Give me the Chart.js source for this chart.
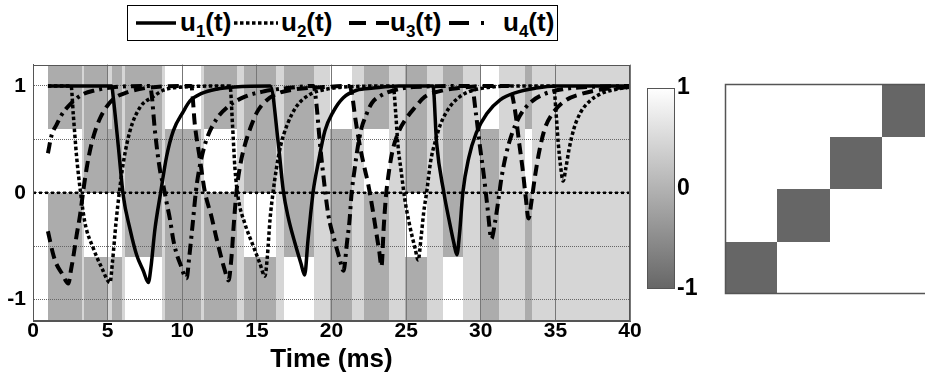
<!DOCTYPE html>
<html>
<head>
<meta charset="utf-8">
<script src="https://cdn.jsdelivr.net/npm/chart.js@4.4.1/dist/chart.umd.min.js"></script>
<style>
  html, body { margin: 0; padding: 0; background: #fff; }
  body {
    width: 925px; height: 381px; position: relative; overflow: hidden;
    font-family: 'Liberation Sans', Arial, sans-serif;
  }
  #mainWrap { position: absolute; left: 0; top: 45px; width: 660px; height: 336px; }
  #cbarWrap { position: absolute; left: 640px; top: 70px; width: 80px; height: 240px; }
  #matWrap  { position: absolute; left: 715px; top: 74px; width: 210px; height: 230px; }
  #legend {
    position: absolute; left: 127px; top: 5px; width: 429px; height: 34px;
    border: 1.5px solid #000; background: #fff;
  }
  .li { position: absolute; top: 0; height: 34px; }
  .li svg { position: absolute; top: 14px; }
  .lt { position: absolute; top: -1px; font-weight: bold; font-size: 26px; line-height: 34px; color: #000; white-space: nowrap; }
  .lt sub { font-size: 17px; vertical-align: -6px; line-height: 0; }
</style>
</head>
<body>
<div id="legend"></div>
<div id="mainWrap"><canvas id="mainChart"></canvas></div>
<div id="cbarWrap"><canvas id="cbarChart"></canvas></div>
<div id="matWrap"><canvas id="matChart"></canvas></div>

<script>
// ── Axis limits / ticks ───────────────────────────────────
const T_LIMITS = [0, 40];
const V_LIMITS = [-1.2, 1.2];
const T_STEP = 5;
const V_STEP = 0.5;

// ── Series, [t (ms), value] ───────────────────────────────
const U1 = [
  [1.0, 1], [5.27, 1], [5.38, 0.89], [5.72, 0.43], [6.05, -0.03], [6.5, -0.34], [6.94, -0.58], [7.39, -0.73],
  [7.73, -0.84], [7.9, -0.7], [8.17, -0.34], [8.55, 0.0], [8.95, 0.34], [9.4, 0.58], [10.07, 0.76],
  [10.52, 0.86], [11.3, 0.93], [12.3, 0.97], [13.5, 0.99], [15.9, 1],
  [16.43, 0.47], [16.77, 0.02], [17.1, -0.23], [17.55, -0.47], [17.95, -0.66], [18.2, -0.77],
  [18.42, -0.45], [18.6, -0.2], [18.78, 0.02], [19.11, 0.28], [19.56, 0.58], [20.12, 0.76], [20.79, 0.89],
  [21.68, 0.96], [22.8, 0.98], [24.5, 1], [26.8, 1],
  [27.04, 0.47], [27.53, 0.0], [27.93, -0.29], [28.2, -0.47], [28.4, -0.58],
  [28.58, -0.38], [28.8, 0.0], [29.2, 0.33], [29.7, 0.56], [30.4, 0.74], [31.3, 0.87], [32.4, 0.94],
  [33.7, 0.98], [35.0, 1], [40, 1]
];
const U2 = [
  [1.0, 1], [2.55, 1], [2.7, 0.73], [2.92, 0.34], [3.19, 0.0], [3.48, -0.28], [4.04, -0.52], [4.6, -0.7],
  [5.16, -0.84], [5.33, -0.64], [5.56, -0.28], [5.78, 0.0], [6.05, 0.28], [6.5, 0.58], [7.17, 0.8],
  [8.06, 0.9], [8.73, 0.96], [10.07, 0.99], [13.2, 1],
  [13.37, 0.63], [13.53, 0.23], [13.75, -0.05], [14.2, -0.29], [14.76, -0.5], [15.2, -0.66], [15.54, -0.78],
  [15.7, -0.6], [15.88, -0.25], [16.08, 0.0], [16.3, 0.22], [16.59, 0.44], [17.04, 0.64], [17.66, 0.81],
  [18.55, 0.92], [19.67, 0.97], [20.8, 0.99], [24.13, 1],
  [24.3, 0.75], [24.45, 0.45], [24.67, 0.2], [24.9, -0.05], [25.23, -0.3], [25.6, -0.52], [25.81, -0.63],
  [26.0, -0.42], [26.18, -0.18], [26.37, 0.0], [26.65, 0.3], [26.95, 0.48], [27.3, 0.64], [27.9, 0.8],
  [28.6, 0.9], [29.27, 0.95], [30.16, 0.98], [32.0, 1], [34.89, 1],
  [35.03, 0.78], [35.19, 0.47], [35.34, 0.26], [35.52, 0.11], [35.7, 0.23], [35.92, 0.41], [36.24, 0.6],
  [36.68, 0.75], [37.31, 0.86], [38.09, 0.93], [39.1, 0.97], [40, 0.99]
];
const U3 = [
  [1.0, -0.36], [1.36, -0.58], [1.58, -0.67], [1.92, -0.75], [2.37, -0.85], [2.55, -0.72], [2.7, -0.6],
  [2.92, -0.4], [3.15, -0.21], [3.45, 0.1], [3.75, 0.35], [4.1, 0.55], [4.5, 0.7], [4.9, 0.8], [5.4, 0.88],
  [6.3, 0.94], [7.5, 0.98], [10.6, 1],
  [10.85, 0.63], [11.19, 0.31], [11.5, 0.02], [11.97, -0.23], [12.3, -0.43], [12.86, -0.73], [13.1, -0.82],
  [13.3, -0.6], [13.45, -0.3], [13.64, 0.02], [13.9, 0.27], [14.2, 0.45], [14.6, 0.62], [15.03, 0.76],
  [15.6, 0.86], [16.4, 0.93], [17.6, 0.97], [19.5, 0.99], [21.2, 1],
  [21.4, 0.9], [21.56, 0.73], [21.9, 0.44], [22.2, 0.24], [22.46, 0.08], [22.75, -0.15], [23.02, -0.39],
  [23.2, -0.55], [23.35, -0.69], [23.5, -0.32], [23.65, -0.03], [23.85, 0.2], [24.1, 0.4], [24.5, 0.57],
  [25.03, 0.7], [25.6, 0.8], [26.26, 0.9], [27.2, 0.95], [28.5, 0.98], [30.5, 1], [31.9, 1],
  [32.13, 0.9], [32.35, 0.72], [32.57, 0.47], [32.8, 0.23], [33.02, -0.05], [33.2, -0.24],
  [33.4, -0.08], [33.62, 0.14], [33.91, 0.38], [34.29, 0.6], [34.85, 0.75], [35.74, 0.87], [36.86, 0.93],
  [38.2, 0.97], [40, 0.99]
];
const U4 = [
  [1.0, 0.37], [1.25, 0.54], [1.59, 0.64], [1.92, 0.73], [2.5, 0.83], [3.3, 0.92], [4.2, 0.96], [5.5, 0.99], [7.85, 1],
  [7.95, 0.92], [8.17, 0.58], [8.51, 0.21], [8.73, 0.07], [8.95, -0.09], [9.18, -0.25], [9.4, -0.44],
  [9.62, -0.57], [9.85, -0.66], [10.29, -0.8],
  [10.47, -0.6], [10.7, -0.29], [10.92, 0.02], [11.19, 0.26], [11.63, 0.5], [12.3, 0.69], [13.1, 0.81],
  [14.2, 0.9], [15.5, 0.95], [17.0, 0.98], [18.8, 1],
  [18.99, 0.83], [19.2, 0.5], [19.4, 0.23], [19.78, -0.2], [20.23, -0.46], [20.55, -0.62], [20.8, -0.73],
  [21.05, -0.45], [21.2, -0.27], [21.35, 0.0], [21.55, 0.22], [21.75, 0.42], [22.0, 0.6], [22.3, 0.72],
  [22.7, 0.84], [23.3, 0.91], [24.2, 0.96], [25.5, 0.99], [29.4, 1],
  [29.67, 0.75], [29.94, 0.44], [30.2, 0.17], [30.43, -0.11], [30.72, -0.43],
  [30.94, -0.29], [31.17, -0.08], [31.39, 0.14], [31.68, 0.35], [32.06, 0.54], [32.62, 0.72], [33.29, 0.84],
  [34.18, 0.92], [35.52, 0.97], [37.08, 0.99], [40, 1]
];

// ── Background cells: column edges (ms), value bands, one value per column ──
const CELL_EDGES = [1.03, 3.28, 3.45, 4.93, 5.27, 5.96, 6.16, 8.64, 8.84, 11.25, 11.45, 13.7, 14.15, 16.3,
  16.8, 18.8, 19.9, 21.35, 22.2, 23.85, 24.95, 26.4, 27.5, 28.8, 30.05, 31.2, 32.95, 33.45, 40];
const CELL_BANDS = [[0.6, 1.2], [0, 0.6], [-0.6, 0], [-1.2, -0.6]];
const CELL_ROW1 = [-0.08, 0.46, -0.08, 0.46, -0.08, 0.46, -0.08, 0.46, 1, 0.46, -0.08, 0.46, -0.08,
  0.46, -0.08, 0.46, 1, 0.46, -0.08, 0.46, -0.08, 0.46, -0.08, 0.46, 1, 0.46, -0.08, 0.46];
const CELL_ROW2 = [1, 0.46, -0.08, -0.08, -0.08, 0.46, -0.08, 0.46, -0.08, 0.46, 1, 0.46, -0.08,
  0.46, -0.08, 0.46, -0.08, 0.46, 1, 0.46, -0.08, 0.46, -0.08, 0.46, -0.08, 0.46, 1, 0.46];
const CELL_ROW3 = [-0.08, 0.46, 1, 1, 1, 0.46, -0.08, 0.46, -0.08, 0.46, -0.08, 0.46, 1,
  0.46, -0.08, 0.46, -0.08, 0.46, -0.08, 0.46, 1, 0.46, -0.08, 0.46, -0.08, 0.46, -0.08, 0.46];
const CELL_ROW4 = [-0.08, 0.46, -0.08, 0.46, -0.08, 0.46, 1, 0.46, -0.08, 0.46, -0.08, 0.46, -0.08,
  0.46, 1, 0.46, -0.08, 0.46, -0.08, 0.46, -0.08, 0.46, 1, 0.46, -0.08, 0.46, -0.08, 0.46];
const CELL_ROWS = [CELL_ROW1, CELL_ROW2, CELL_ROW3, CELL_ROW4];

// ── Colour bar and coupling matrix ────────────────────────
const CBAR_RANGE = [-1, 1];
const CBAR_TICKS = [-1, 0, 1];
const MAT_X_LIMITS = [0, 3.82];   // right edge of the figure cuts the last column
const MAT_Y_LIMITS = [0, 4];
const MATRIX = [            // row 0 = bottom row
  [-1, 1, 1, 1],
  [1, -1, 1, 1],
  [1, 1, -1, 1],
  [1, 1, 1, -1],
];

// ── Styles ────────────────────────────────────────────────
const FONT = "'Liberation Sans', Arial, sans-serif";
const SERIES = [
  { label: 'u', sub: '1', data: U1, width: 3.5, dash: [],            legDash: [],              legX: [8, 48],    textX: 52 },
  { label: 'u', sub: '2', data: U2, width: 3.5, dash: [3.5, 2.5],    legDash: [3.5, 2.5],      legX: [106, 150], textX: 153 },
  { label: 'u', sub: '3', data: U3, width: 4,   dash: [11, 6],       legDash: [17, 10],        legX: [221, 261], textX: 262 },
  { label: 'u', sub: '4', data: U4, width: 4,   dash: [11, 5, 3, 5], legDash: [20, 12, 3, 99], legX: [321, 357], textX: 375 },
];

function grey(v) {
  const l = Math.round(102 + (v + 1) / 2 * 153);
  return `rgb(${l},${l},${l})`;
}

// ── Legend (HTML, for the subscripts) ─────────────────────
function renderLegend() {
  const el = document.getElementById('legend');
  SERIES.forEach(s => {
    const w = s.legX[1] - s.legX[0];
    el.innerHTML += `
      <div class="li" style="left:${s.legX[0]}px;width:${w}px">
        <svg width="${w}" height="6"><line x1="0" y1="3" x2="${w}" y2="3" stroke="#000"
          stroke-width="${s.width}" stroke-dasharray="${s.legDash.join(' ') || 'none'}"/></svg>
      </div>
      <div class="lt" style="left:${s.textX}px">${s.label}<sub>${s.sub}</sub>(t)</div>`;
  });
}

// ── Plugins ───────────────────────────────────────────────
const cellsPlugin = {
  id: 'cells',
  beforeDraw(chart) {
    const { ctx, chartArea: a, scales: { x, y } } = chart;
    ctx.save();
    ctx.beginPath();
    ctx.rect(a.left, a.top, a.width, a.height);
    ctx.clip();
    CELL_ROWS.forEach((row, r) => {
      const y0 = Math.round(y.getPixelForValue(CELL_BANDS[r][1]));
      const y1 = Math.round(y.getPixelForValue(CELL_BANDS[r][0]));
      row.forEach((v, i) => {
        const x0 = Math.round(x.getPixelForValue(CELL_EDGES[i]));
        const x1 = Math.round(x.getPixelForValue(CELL_EDGES[i + 1]));
        ctx.fillStyle = grey(v);
        ctx.fillRect(x0, y0, x1 - x0, y1 - y0);
      });
    });
    ctx.restore();
  },
  afterDraw(chart) {
    const { ctx, chartArea: a } = chart;
    ctx.save();
    ctx.strokeStyle = '#555';
    ctx.lineWidth = 1;
    ctx.strokeRect(Math.round(a.left) + 0.5, Math.round(a.top) + 0.5,
      Math.round(a.width) - 1, Math.round(a.height) - 1);
    ctx.restore();
  }
};

const cbarPlugin = {
  id: 'cbar',
  beforeDraw(chart) {
    const { ctx, chartArea: a, scales: { y } } = chart;
    const yTop = y.getPixelForValue(CBAR_RANGE[1]);
    const yBot = y.getPixelForValue(CBAR_RANGE[0]);
    const g = ctx.createLinearGradient(0, yTop, 0, yBot);
    g.addColorStop(0, grey(CBAR_RANGE[1]));
    g.addColorStop(1, grey(CBAR_RANGE[0]));
    ctx.save();
    ctx.fillStyle = g;
    ctx.fillRect(a.left, yTop, a.width, yBot - yTop);
    ctx.strokeStyle = '#555';
    ctx.lineWidth = 1;
    ctx.strokeRect(Math.round(a.left) + 0.5, Math.round(yTop) + 0.5, Math.round(a.width) - 1, Math.round(yBot - yTop) - 1);
    ctx.restore();
  }
};

const matrixPlugin = {
  id: 'matrix',
  beforeDraw(chart) {
    const { ctx, chartArea: a, scales: { x, y } } = chart;
    ctx.save();
    MATRIX.forEach((row, r) => {
      row.forEach((v, c) => {
        const x0 = Math.round(x.getPixelForValue(c)), x1 = Math.round(x.getPixelForValue(c + 1));
        const y0 = Math.round(y.getPixelForValue(r + 1)), y1 = Math.round(y.getPixelForValue(r));
        ctx.fillStyle = grey(v);
        ctx.fillRect(x0, y0, x1 - x0, y1 - y0);
      });
    });
    ctx.strokeStyle = '#555';
    ctx.lineWidth = 1.5;
    const L = Math.round(a.left) + 0.5, T = Math.round(a.top) + 0.5, B = Math.round(a.bottom) - 0.5;
    ctx.beginPath();
    ctx.moveTo(a.right, T); ctx.lineTo(L, T); ctx.lineTo(L, B); ctx.lineTo(a.right, B);
    ctx.stroke();
    ctx.restore();
  }
};

// ── Charts ────────────────────────────────────────────────
function renderMain() {
  const datasets = SERIES.map(s => ({
    label: s.label + s.sub + '(t)',
    data: s.data.map(([t, v]) => ({ x: t, y: v })),
    borderColor: '#000',
    borderWidth: s.width,
    borderDash: s.dash,
    borderCapStyle: 'butt',
    pointRadius: 0,
    cubicInterpolationMode: 'monotone',
    fill: false,
  }));
  // dotted reference line at zero
  datasets.push({
    label: 'zero',
    data: [{ x: T_LIMITS[0], y: 0 }, { x: T_LIMITS[1], y: 0 }],
    borderColor: '#000', borderWidth: 2.5, borderDash: [3, 3], pointRadius: 0,
  });

  new Chart(document.getElementById('mainChart'), {
    type: 'line',
    data: { datasets },
    plugins: [cellsPlugin],
    options: {
      responsive: true, maintainAspectRatio: false, animation: false,
      layout: { padding: { left: 0, right: 30, top: 14, bottom: 0 } },
      plugins: { legend: { display: false }, tooltip: { enabled: false } },
      scales: {
        x: {
          type: 'linear', min: T_LIMITS[0], max: T_LIMITS[1],
          ticks: { stepSize: T_STEP, color: '#000', padding: -2, maxRotation: 0,
                   font: { family: FONT, size: 21, weight: 'bold' } },
          grid: { color: '#777', lineWidth: 1, drawTicks: false },
          border: { color: '#555' },
          title: { display: true, text: 'Time (ms)', color: '#000', padding: { top: 0, bottom: 6 },
                   font: { family: FONT, size: 26, weight: 'bold' } },
          afterFit: s => { s.height = 60; },
        },
        y: {
          type: 'linear', min: V_LIMITS[0], max: V_LIMITS[1],
          ticks: { stepSize: V_STEP, includeBounds: false, color: '#000', padding: 7,
                   font: { family: FONT, size: 21, weight: 'bold' },
                   callback: v => Number.isInteger(v) ? String(v) : '' },
          grid: { color: '#666', lineWidth: 1, drawTicks: false },
          border: { color: '#555', dash: [1, 1] },
          afterFit: s => { s.width = 33; },
        },
      },
    },
  });
}

function renderColorbar() {
  new Chart(document.getElementById('cbarChart'), {
    type: 'scatter',
    data: { datasets: [] },
    plugins: [cbarPlugin],
    options: {
      responsive: true, maintainAspectRatio: false, animation: false,
      layout: { padding: { left: 7, right: 0, top: 18, bottom: 21 } },
      plugins: { legend: { display: false }, tooltip: { enabled: false } },
      scales: {
        x: { display: false, min: 0, max: 1 },
        y: {
          position: 'right', min: CBAR_RANGE[0], max: CBAR_RANGE[1],
          afterBuildTicks: s => { s.ticks = CBAR_TICKS.map(v => ({ value: v })); },
          ticks: { color: '#000', padding: 2, font: { family: FONT, size: 23, weight: 'bold' } },
          grid: { display: false, drawTicks: false },
          border: { display: false },
          afterFit: s => { s.width = 45; },
        },
      },
    },
  });
}

function renderMatrix() {
  new Chart(document.getElementById('matChart'), {
    type: 'scatter',
    data: { datasets: [] },
    plugins: [matrixPlugin],
    options: {
      responsive: true, maintainAspectRatio: false, animation: false,
      layout: { padding: { left: 10, right: 0, top: 10, bottom: 10 } },
      plugins: { legend: { display: false }, tooltip: { enabled: false } },
      scales: {
        x: { display: false, min: MAT_X_LIMITS[0], max: MAT_X_LIMITS[1] },
        y: { display: false, min: MAT_Y_LIMITS[0], max: MAT_Y_LIMITS[1] },
      },
    },
  });
}

// ── Init ──────────────────────────────────────────────────
renderLegend();
renderMain();
renderColorbar();
renderMatrix();
</script>
</body>
</html>
